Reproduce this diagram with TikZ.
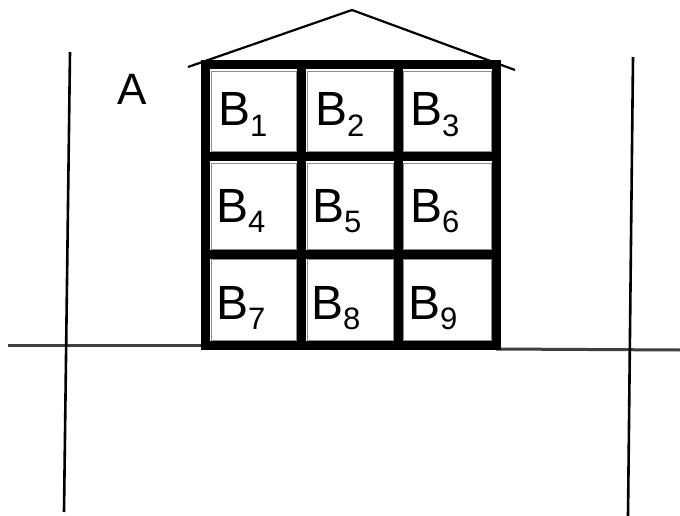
\documentclass[tikz,border=0pt]{standalone}
\usepackage{fontspec}
\setmainfont{Liberation Sans}
\newcommand\bsub[1]{B\raisebox{-10pt}{\fontsize{31}{31}\selectfont #1}}
\begin{document}
\begin{tikzpicture}[x=1pt,y=-1pt,
  gridline/.style={line width=9pt,line cap=rect},
  thinline/.style={line width=2.6pt},
  groundline/.style={line width=3pt,black!75},
  celltext/.style={anchor=base west,inner sep=0pt,font=\fontsize{48}{48}\selectfont},
  cellbox/.style={draw=black!45,line width=0.8pt}]
\useasboundingbox[fill=white] (0,0) rectangle (680,516);
% ground
\draw[groundline] (8,345) -- (202,345);
\draw[groundline] (496,349) -- (680,350);
% side lines
\draw[thinline] (70,52) -- (64,512);
\draw[thinline] (633,57) -- (628,516);
% roof
\draw[line width=2.2pt,line join=round] (188,67) -- (352,10) -- (515,70);
% cell outlines
\foreach \xa/\xb in {211/296,307/393,403/491}
  \foreach \ya/\yb in {71/151,163/249,259/340}
    \draw[cellbox] (\xa,\ya) rectangle (\xb,\yb);
% grid
\draw[gridline] (205,65) rectangle (496,345);
\draw[gridline] (301.5,65) -- (301.5,345);
\draw[gridline] (398,65) -- (398,345);
\draw[gridline] (205,157) -- (496,157);
\draw[gridline] (205,254) -- (496,254);
% labels
\node[anchor=base,inner sep=0pt,font=\fontsize{44}{44}\selectfont] (A) at (132,105) {A};
\node[celltext] (b1) at (218,126) {\bsub{1}};
\node[celltext] (b2) at (315,126) {\bsub{2}};
\node[celltext] (b3) at (410,126) {\bsub{3}};
\node[celltext] (b4) at (216,222) {\bsub{4}};
\node[celltext] (b5) at (312,222) {\bsub{5}};
\node[celltext] (b6) at (410,222) {\bsub{6}};
\node[celltext] (b7) at (216,319) {\bsub{7}};
\node[celltext] (b8) at (311,319) {\bsub{8}};
\node[celltext] (b9) at (408,319) {\bsub{9}};
\end{tikzpicture}
\end{document}
